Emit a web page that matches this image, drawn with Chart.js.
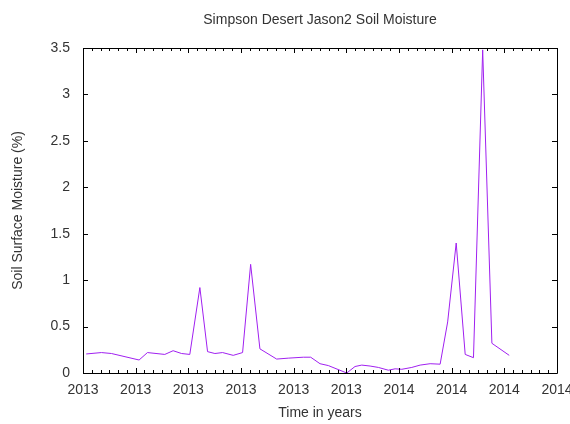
<!DOCTYPE html>
<html>
<head>
<meta charset="utf-8">
<script src="https://cdn.jsdelivr.net/npm/chart.js@4/dist/chart.umd.min.js"></script>
<style>
html,body{margin:0;padding:0;background:#fff;}
#wrap{width:570px;height:424px;}
</style>
</head>
<body>
<div id="wrap"><canvas id="c" width="570" height="424"></canvas></div>
<script>
// Tick labels for the major x ticks (positions 0..9)
const xTickLabels = ['2013','2013','2013','2013','2013','2013','2014','2014','2014','2014'];
// Time position of each observation, in major-tick units
const timePos = [0.061,0.350,0.540,1.065,1.224,1.553,1.711,1.871,2.028,2.219,2.365,2.504,2.650,2.852,3.030,3.183,3.359,3.677,3.897,4.183,4.323,4.500,4.658,5.008,5.165,5.293,5.451,5.608,5.798,5.926,6.053,6.243,6.401,6.591,6.781,6.924,7.086,7.257,7.414,7.589,7.764,8.093];
// Soil surface moisture (%)
const moisture = [0.205,0.22,0.21,0.14,0.22,0.20,0.24,0.21,0.20,0.92,0.23,0.21,0.22,0.19,0.22,1.17,0.26,0.15,0.16,0.17,0.17,0.10,0.08,0.0,0.07,0.085,0.075,0.06,0.03,0.045,0.04,0.06,0.085,0.10,0.095,0.55,1.40,0.20,0.165,3.48,0.32,0.19];

const chartTitle = 'Simpson Desert Jason2 Soil Moisture';
const xTitle = 'Time in years';
const yTitle = 'Soil Surface Moisture (%)';

const FONT = 'Liberation Sans, Arial, sans-serif';
const FS = 14;
const TXT = '#333333';

const points = timePos.map((t, i) => ({x: t, y: moisture[i]}));

const framePlugin = {
  id: 'frame',
  afterDraw(chart) {
    const ctx = chart.ctx;
    const a = chart.chartArea;
    const xs = chart.scales.x, ys = chart.scales.y;
    ctx.save();
    ctx.strokeStyle = '#000';
    ctx.lineWidth = 1;
    ctx.beginPath();
    ctx.rect(Math.round(a.left) + 0.5, Math.round(a.top) + 0.5, Math.round(a.right - a.left), Math.round(a.bottom - a.top));
    ctx.stroke();
    ctx.beginPath();
    // x ticks: major + 5 minor per interval
    for (let i = 0; i <= 54; i++) {
      const v = i / 6;
      const px = Math.round(xs.getPixelForValue(v)) + 0.5;
      const len = (i % 6 === 0) ? 5 : 3;
      ctx.moveTo(px, a.bottom); ctx.lineTo(px, a.bottom - len);
      ctx.moveTo(px, a.top); ctx.lineTo(px, a.top + len);
    }
    // y ticks
    for (let v = 0; v <= 3.5001; v += 0.5) {
      const py = Math.round(ys.getPixelForValue(v)) + 0.5;
      ctx.moveTo(a.left, py); ctx.lineTo(a.left + 5, py);
      ctx.moveTo(a.right, py); ctx.lineTo(a.right - 5, py);
    }
    ctx.stroke();
    // chart title
    ctx.fillStyle = TXT;
    ctx.font = FS + 'px ' + FONT;
    ctx.textAlign = 'center';
    ctx.textBaseline = 'middle';
    ctx.fillText(chartTitle, (a.left + a.right) / 2, 20);
    ctx.restore();
  }
};

new Chart(document.getElementById('c'), {
  type: 'line',
  data: {
    datasets: [{
      data: points,
      borderColor: '#a020f0',
      borderWidth: 1,
      pointRadius: 0,
      tension: 0,
      fill: false
    }]
  },
  options: {
    responsive: false,
    animation: false,
    layout: {padding: {top: 48, right: 13, left: 0, bottom: 0}},
    plugins: {legend: {display: false}, tooltip: {enabled: false}, title: {display: false}},
    scales: {
      x: {
        type: 'linear',
        min: 0, max: 9,
        grid: {display: false, drawTicks: false},
        border: {display: false},
        ticks: {
          stepSize: 1,
          padding: 9,
          color: TXT,
          font: {family: FONT, size: FS},
          maxRotation: 0,
          callback: (v) => xTickLabels[Math.round(v)] ?? ''
        },
        title: {display: true, text: xTitle, color: TXT, font: {family: FONT, size: FS}, padding: {top: 0, bottom: 2.6}},
        afterFit: (s) => { s.height = 51; s.paddingLeft = 0; s.paddingRight = 0; }
      },
      y: {
        min: 0, max: 3.5,
        grid: {display: false, drawTicks: false},
        border: {display: false},
        ticks: {
          stepSize: 0.5,
          padding: 13,
          color: TXT,
          font: {family: FONT, size: FS},
          callback: (v) => String(v)
        },
        title: {display: true, text: yTitle, color: TXT, font: {family: FONT, size: FS}, padding: {top: 9.6, bottom: 0}},
        afterFit: (s) => { s.width = 83; s.paddingTop = 0; s.paddingBottom = 0; }
      }
    }
  },
  plugins: [framePlugin]
});
</script>
</body>
</html>
